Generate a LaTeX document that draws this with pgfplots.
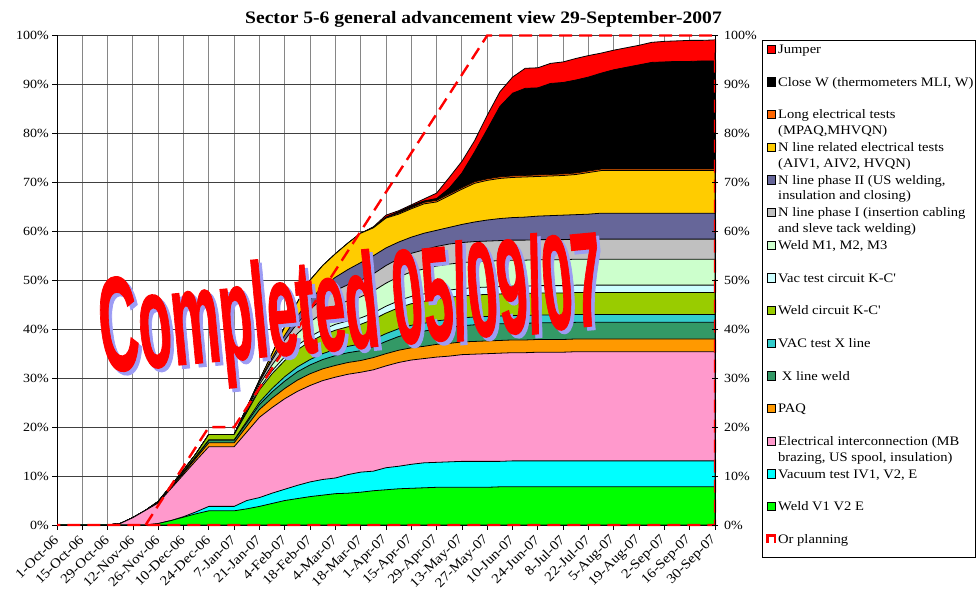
\documentclass[border=0pt]{standalone}
\usepackage{fontspec}
\setmainfont{Liberation Serif}[FakeStretch=1.12]
\newfontfamily\bigfont{Liberation Sans}[BoldFeatures={FakeBold=1.2}]
\usepackage{graphicx}
\usepackage{pgfplots}
\usepackage{pgfplotstable}
\pgfplotsset{compat=1.18}

\definecolor{cJumper}{HTML}{FF0000}
\definecolor{cClose}{HTML}{000000}
\definecolor{cLong}{HTML}{FF6600}
\definecolor{cNrel}{HTML}{FFCC00}
\definecolor{cNII}{HTML}{666699}
\definecolor{cNI}{HTML}{C0C0C0}
\definecolor{cWM}{HTML}{CCFFCC}
\definecolor{cVKC}{HTML}{CCFFFF}
\definecolor{cWKC}{HTML}{99CC00}
\definecolor{cVX}{HTML}{33CCCC}
\definecolor{cXW}{HTML}{339966}
\definecolor{cPAQ}{HTML}{FF9900}
\definecolor{cEI}{HTML}{FF99CC}
\definecolor{cVT}{HTML}{00FFFF}
\definecolor{cWV}{HTML}{00FF00}
\definecolor{shadowc}{HTML}{9C9CF4}

% cumulative tops of the stacked layers (percent), week index from 1-Oct-06
\pgfplotstableread{
w L1 L2 L3 L4 L5 L6 L7 L8 L9 L10 L11 L12 L13 L14 L15
0 0 0 0 0 0 0 0 0 0 0 0 0 0 0 0
1 0 0 0 0 0 0 0 0 0 0 0 0 0 0 0
2 0 0 0 0 0 0 0 0 0 0 0 0 0 0 0
3 0 0 0 0 0 0 0 0 0 0 0 0 0 0 0
4 0 0 0 0 0 0 0 0 0 0 0 0 0 0 0
5 0 0 0.3 0.3 0.3 0.3 0.3 0.3 0.3 0.3 0.3 0.3 0.3 0.3 0.3
6 0 0 1.5 1.5 1.5 1.5 1.5 1.5 1.5 1.5 1.5 1.5 1.5 1.5 1.5
7 0 0 3.0 3.0 3.0 3.0 3.0 3.0 3.0 3.0 3.0 3.0 3.0 3.0 3.0
8 0.3 0.3 4.5 4.6 4.7 4.7 4.8 4.8 4.8 4.8 4.8 4.8 4.8 4.8 4.8
9 0.9 0.9 7.4 7.6 7.8 7.8 8.0 8.0 8.0 8.0 8.0 8.0 8.0 8.0 8.0
10 1.6 1.7 10.3 10.6 10.8 10.9 11.2 11.2 11.2 11.2 11.2 11.2 11.2 11.2 11.2
11 2.3 2.7 13.2 13.7 14.0 14.1 14.6 14.6 14.6 14.6 14.6 14.6 14.6 14.6 14.6
12 2.9 3.8 16.0 16.8 17.3 17.4 18.5 18.5 18.5 18.5 18.5 18.5 18.5 18.5 18.5
13 2.9 3.8 16.0 16.8 17.3 17.4 18.5 18.5 18.5 18.5 18.5 18.5 18.5 18.5 18.5
14 2.9 3.8 16.0 16.8 17.3 17.4 18.5 18.5 18.5 18.5 18.5 18.5 18.5 18.5 18.5
15 3.3 5.0 19.0 20.2 20.9 21.2 23.0 23.2 23.5 23.7 23.8 24.0 24.0 24.0 24.0
16 3.8 5.6 22.0 23.6 24.6 25.1 27.6 28.0 28.7 29.2 29.4 29.6 29.6 29.6 29.6
17 4.4 6.5 24.0 25.9 27.2 27.9 30.9 31.5 32.7 33.7 34.2 35.0 35.0 35.0 35.0
18 5.0 7.3 25.8 27.9 29.4 30.3 33.6 34.4 36.2 37.8 38.8 40.5 40.5 40.5 40.5
19 5.4 8.1 27.3 29.6 31.3 32.3 35.8 36.7 39.1 41.2 42.7 45.5 45.5 45.5 45.5
20 5.8 8.8 28.5 30.9 32.7 33.8 37.5 38.5 41.5 44.1 46.1 50.0 50.0 50.0 50.0
21 6.1 9.3 29.5 31.9 33.8 35.0 38.8 39.9 43.3 46.2 48.6 53.0 53.0 53.0 53.0
22 6.4 9.6 30.2 32.6 34.6 35.9 39.8 41.0 44.8 47.9 50.6 55.4 55.4 55.4 55.4
23 6.5 10.3 30.8 33.2 35.2 36.5 40.5 41.7 45.8 49.1 52.2 57.6 57.6 57.6 57.6
24 6.7 10.8 31.2 33.6 35.6 37.0 41.0 42.3 46.6 50.0 53.6 59.6 59.6 59.6 59.6
25 7.0 11.0 31.7 34.2 36.4 37.9 42.0 43.3 47.8 51.3 55.0 60.7 60.8 60.8 60.9
26 7.2 11.7 32.5 35.0 37.5 39.1 43.3 44.7 49.4 53.0 56.6 62.7 62.8 62.9 63.3
27 7.4 12.0 33.2 35.7 38.5 40.1 44.4 45.8 50.7 54.4 57.8 63.5 63.7 64.0 64.2
28 7.5 12.4 33.7 36.2 39.2 40.8 45.2 46.7 51.7 55.5 58.8 64.6 64.8 65.2 65.4
29 7.6 12.7 34.0 36.5 39.6 41.2 45.7 47.2 52.3 56.2 59.6 65.6 65.9 66.2 66.6
30 7.7 12.8 34.3 36.9 40.1 41.7 46.2 47.7 52.9 56.9 60.2 66.0 66.3 66.7 67.8
31 7.7 12.9 34.5 37.1 40.4 42.0 46.5 48.0 53.3 57.4 60.8 67.3 67.6 68.8 71.0
32 7.7 13.0 34.8 37.4 40.7 42.3 46.8 48.3 53.6 57.7 61.4 68.6 68.9 71.9 74.3
33 7.7 13.0 34.9 37.5 40.9 42.5 47.0 48.5 53.8 57.9 61.9 69.8 70.1 76.2 78.5
34 7.7 13.0 35.0 37.6 41.0 42.6 47.1 48.6 53.9 58.0 62.3 70.4 70.7 80.8 83.7
35 7.8 13.0 35.1 37.7 41.1 42.7 47.2 48.7 54.0 58.1 62.6 70.8 71.1 85.5 88.5
36 7.8 13.1 35.2 37.8 41.2 42.8 47.3 48.8 54.1 58.2 62.8 71.0 71.3 88.2 91.5
37 7.8 13.1 35.2 37.8 41.2 42.8 47.3 48.8 54.1 58.2 62.9 71.1 71.4 89.2 93.3
38 7.8 13.1 35.3 37.9 41.3 42.9 47.4 48.9 54.2 58.3 63.1 71.2 71.5 89.3 93.4
39 7.8 13.1 35.3 37.9 41.3 42.9 47.4 48.9 54.2 58.3 63.2 71.3 71.6 90.2 94.3
40 7.8 13.1 35.3 37.9 41.3 42.9 47.4 48.9 54.2 58.3 63.3 71.4 71.7 90.4 94.6
41 7.8 13.1 35.4 38.0 41.4 43.0 47.5 49.0 54.3 58.4 63.4 71.6 71.9 90.9 95.3
42 7.8 13.1 35.4 38.0 41.4 43.0 47.5 49.0 54.3 58.4 63.5 72.0 72.3 91.5 95.9
43 7.8 13.1 35.4 38.0 41.4 43.0 47.5 49.0 54.3 58.4 63.7 72.4 72.7 92.3 96.4
44 7.8 13.1 35.4 38.0 41.4 43.0 47.5 49.0 54.3 58.4 63.7 72.4 72.7 93.0 97.0
45 7.8 13.1 35.4 38.0 41.4 43.0 47.5 49.0 54.3 58.4 63.7 72.4 72.7 93.5 97.5
46 7.8 13.1 35.4 38.0 41.4 43.0 47.5 49.0 54.3 58.4 63.7 72.4 72.7 94.0 98.0
47 7.8 13.1 35.4 38.0 41.4 43.0 47.5 49.0 54.3 58.4 63.7 72.4 72.7 94.5 98.6
48 7.8 13.1 35.4 38.0 41.4 43.0 47.5 49.0 54.3 58.4 63.7 72.4 72.7 94.6 98.8
49 7.8 13.1 35.4 38.0 41.4 43.0 47.5 49.0 54.3 58.4 63.7 72.4 72.7 94.7 98.9
50 7.8 13.1 35.4 38.0 41.4 43.0 47.5 49.0 54.3 58.4 63.7 72.4 72.7 94.7 99.0
51 7.8 13.1 35.4 38.0 41.4 43.0 47.5 49.0 54.3 58.4 63.7 72.4 72.7 94.8 99.0
52 7.8 13.1 35.4 38.0 41.4 43.0 47.5 49.0 54.3 58.4 63.7 72.4 72.7 94.8 99.1
}\progress

\pgfplotstableread{
w plan
7 0
12 20
14 20
34 100
52 100
52 0
0 0
}\planning

\newcommand\legfont{\fontsize{13}{15.7}\selectfont}
\newcommand\tickfont{\fontsize{12.5}{14}\selectfont}
\newcommand\xtickfont{\fontsize{13.5}{15}\selectfont}

\begin{document}
\begin{tikzpicture}[x=1pt,y=1pt]
\path[use as bounding box] (0,0) rectangle (977,596);
\begin{axis}[
  at={(57pt,71pt)}, anchor=south west,
  scale only axis, width=658pt, height=489.5pt,
  xmin=0, xmax=52, ymin=0, ymax=100,
  axis x line*=bottom, axis y line*=left,
  xtick={0,2,...,52},
  xticklabels={1-Oct-06,15-Oct-06,29-Oct-06,12-Nov-06,26-Nov-06,10-Dec-06,24-Dec-06,7-Jan-07,21-Jan-07,4-Feb-07,18-Feb-07,4-Mar-07,18-Mar-07,1-Apr-07,15-Apr-07,29-Apr-07,13-May-07,27-May-07,10-Jun-07,24-Jun-07,8-Jul-07,22-Jul-07,5-Aug-07,19-Aug-07,2-Sep-07,16-Sep-07,30-Sep-07},
  ytick={0,10,20,30,40,50,60,70,80,90,100},
  yticklabels={0\%,10\%,20\%,30\%,40\%,50\%,60\%,70\%,80\%,90\%,100\%},
  xticklabel style={yshift=-7pt, rotate=45, anchor=east, font=\xtickfont, inner sep=1pt},
  yticklabel style={font=\tickfont, inner sep=3pt},
  grid=major,
  x grid style={gray!95, line width=1pt},
  y grid style={black!75, line width=0.8pt},
  tick align=outside, major tick length=5pt,
  axis line style={black, line width=1pt},
  tick style={black, line width=0.8pt},
  clip=false,
]
\addplot[fill=cJumper, draw=black, line width=0.8pt] table[x=w,y=L15]{\progress} \closedcycle;
\addplot[fill=cClose, draw=black, line width=0.8pt] table[x=w,y=L14]{\progress} \closedcycle;
\addplot[fill=cLong, draw=black, line width=0.6pt] table[x=w,y=L13]{\progress} \closedcycle;
\addplot[fill=cNrel, draw=black, line width=0.8pt] table[x=w,y=L12]{\progress} \closedcycle;
\addplot[fill=cNII, draw=black, line width=0.8pt] table[x=w,y=L11]{\progress} \closedcycle;
\addplot[fill=cNI, draw=black, line width=0.8pt] table[x=w,y=L10]{\progress} \closedcycle;
\addplot[fill=cWM, draw=black, line width=0.8pt] table[x=w,y=L9]{\progress} \closedcycle;
\addplot[fill=cVKC, draw=black, line width=0.8pt] table[x=w,y=L8]{\progress} \closedcycle;
\addplot[fill=cWKC, draw=black, line width=0.8pt] table[x=w,y=L7]{\progress} \closedcycle;
\addplot[fill=cVX, draw=black, line width=0.8pt] table[x=w,y=L6]{\progress} \closedcycle;
\addplot[fill=cXW, draw=black, line width=0.8pt] table[x=w,y=L5]{\progress} \closedcycle;
\addplot[fill=cPAQ, draw=black, line width=0.8pt] table[x=w,y=L4]{\progress} \closedcycle;
\addplot[fill=cEI, draw=black, line width=0.8pt] table[x=w,y=L3]{\progress} \closedcycle;
\addplot[fill=cVT, draw=black, line width=0.8pt] table[x=w,y=L2]{\progress} \closedcycle;
\addplot[fill=cWV, draw=black, line width=0.8pt] table[x=w,y=L1]{\progress} \closedcycle;
\addplot[red, line width=2.4pt, dash pattern=on 13pt off 7pt] table[x=w,y=plan]{\planning};
\end{axis}
\begin{axis}[
  at={(57pt,71pt)}, anchor=south west,
  scale only axis, width=658pt, height=489.5pt,
  xmin=0, xmax=52, ymin=0, ymax=100,
  axis x line=none, axis y line*=right,
  ytick={0,10,20,30,40,50,60,70,80,90,100},
  yticklabels={0\%,10\%,20\%,30\%,40\%,50\%,60\%,70\%,80\%,90\%,100\%},
  yticklabel style={font=\tickfont, inner sep=3pt, xshift=3pt},
  tick align=center, major tick length=6pt,
  axis line style={black, line width=1pt},
  tick style={black, line width=0.8pt},
]
\end{axis}

% title
\node[anchor=base, font=\fontsize{17.5}{20}\selectfont\bfseries] at (483.5,572) {Sector 5-6 general advancement view 29-September-2007};

% overlay stamp
\node[anchor=base west, inner sep=0, rotate=5.4, text=shadowc] at (106.5,220.5) {\scalebox{0.404}[1]{\bigfont\bfseries\fontsize{134}{134}\selectfont Completed 05/09/07}};
\node[anchor=base west, inner sep=0, rotate=5.4, text=red] at (103,224) {\scalebox{0.404}[1]{\bigfont\bfseries\fontsize{134}{134}\selectfont Completed 05/09/07}};

% legend
\draw[black, line width=0.8pt] (762,39) rectangle (975.5,556);
\newcommand\legsq[2]{\filldraw[fill=#2, draw=black, line width=0.7pt] (767,#1-4.15) rectangle ++(8.3,8.3);}
\newcommand\legtx[2]{\node[anchor=base west, inner sep=0, font=\legfont] at (778,#1-4.4) {#2};}
\newcommand\legtxb[2]{\node[anchor=base west, inner sep=0, font=\legfont] at (778,#1-20.1) {#2};}
\legsq{546.7}{cJumper}\legtx{546.7}{Jumper}
\legsq{514.05}{cClose}\legtx{514.05}{Close W (thermometers MLI, W)}
\legsq{481.4}{cLong}\legtx{481.4}{Long electrical tests}\legtxb{481.4}{(MPAQ,MHVQN)}
\legsq{448.75}{cNrel}\legtx{448.75}{N line related electrical tests}\legtxb{448.75}{(AIV1, AIV2, HVQN)}
\legsq{416.1}{cNII}\legtx{416.1}{N line phase II (US welding,}\legtxb{416.1}{insulation and closing)}
\legsq{383.45}{cNI}\legtx{383.45}{N line phase I (insertion cabling}\legtxb{383.45}{and sleve tack welding)}
\legsq{350.8}{cWM}\legtx{350.8}{Weld M1, M2, M3}
\legsq{318.15}{cVKC}\legtx{318.15}{Vac test circuit K-C\textquotesingle}
\legsq{285.5}{cWKC}\legtx{285.5}{Weld circuit K-C\textquotesingle}
\legsq{252.85}{cVX}\legtx{252.85}{VAC test X line}
\legsq{220.2}{cXW}\legtx{220.2}{\ X line weld}
\legsq{187.55}{cPAQ}\legtx{187.55}{PAQ}
\legsq{154.9}{cEI}\legtx{154.9}{Electrical interconnection (MB}\legtxb{154.9}{brazing, US spool, insulation)}
\legsq{122.25}{cVT}\legtx{122.25}{Vacuum test IV1, V2, E}
\legsq{89.6}{cWV}\legtx{89.6}{Weld V1 V2 E}
\draw[red, line width=2.2pt] (767.5,56.95-4) -- (767.5,56.95+3.5) -- (775,56.95+3.5) -- (775,56.95-4);
\legtx{56.95}{Or planning}
\end{tikzpicture}
\end{document}
